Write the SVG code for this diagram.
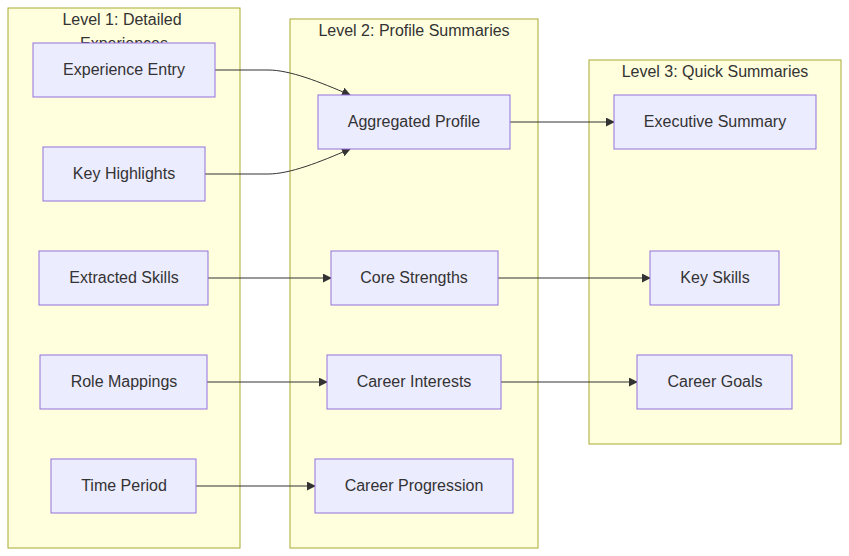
<svg xmlns="http://www.w3.org/2000/svg" width="849" height="556" viewBox="0 0 849 556">
<defs>
<marker id="arrow" viewBox="0 0 10 10" refX="9" refY="5" markerUnits="userSpaceOnUse" markerWidth="9" markerHeight="9" orient="auto">
<path d="M0,0 L10,5 L0,10 z" fill="#333333"/>
</marker>
</defs>
<style>
.cluster{fill:#ffffde;stroke:#aaaa33;stroke-width:1}
.node rect{fill:#ececff;stroke:#9370db;stroke-width:1}
text{font-family:"Liberation Sans",Arial,sans-serif;font-size:16px;fill:#333333;text-anchor:middle;dominant-baseline:central}
.edge{fill:none;stroke:#333333;stroke-width:1;marker-end:url(#arrow)}
</style>
<rect width="849" height="556" fill="#ffffff"/>
<g id="cluster-level1">
<rect class="cluster" x="8" y="8" width="232" height="540"/>
<text x="122" y="19">Level 1: Detailed</text>
<text x="124" y="43">Experiences</text>
</g>
<g id="cluster-level2">
<rect class="cluster" x="290" y="19" width="248" height="529"/>
<text x="414" y="30">Level 2: Profile Summaries</text>
</g>
<g id="cluster-level3">
<rect class="cluster" x="589" y="60" width="252" height="384"/>
<text x="715" y="71">Level 3: Quick Summaries</text>
</g>
<g id="edges">
<path class="edge" d="M215,70 L268,70 C290,70 320,82 350,95"/>
<path class="edge" d="M205,174 L268,174 C290,174 320,162 350,149"/>
<path class="edge" d="M510,122 L614,122"/>
<path class="edge" d="M208,278 L331,278"/>
<path class="edge" d="M498,278 L650,278"/>
<path class="edge" d="M207,382 L327,382"/>
<path class="edge" d="M501,382 L637,382"/>
<path class="edge" d="M196,486 L315,486"/>
</g>
<g id="experience-entry" class="node"><rect x="33" y="43" width="182" height="54"/><text x="124" y="69">Experience Entry</text></g>
<g id="key-highlights" class="node"><rect x="43" y="147" width="162" height="54"/><text x="124" y="173">Key Highlights</text></g>
<g id="extracted-skills" class="node"><rect x="39" y="251" width="169" height="54"/><text x="124" y="277">Extracted Skills</text></g>
<g id="role-mappings" class="node"><rect x="40" y="355" width="167" height="54"/><text x="124" y="381">Role Mappings</text></g>
<g id="time-period" class="node"><rect x="51" y="459" width="145" height="54"/><text x="124" y="485">Time Period</text></g>
<g id="aggregated-profile" class="node"><rect x="318" y="95" width="192" height="54"/><text x="414" y="121">Aggregated Profile</text></g>
<g id="core-strengths" class="node"><rect x="331" y="251" width="167" height="54"/><text x="414" y="277">Core Strengths</text></g>
<g id="career-interests" class="node"><rect x="327" y="355" width="174" height="54"/><text x="414" y="381">Career Interests</text></g>
<g id="career-progression" class="node"><rect x="315" y="459" width="198" height="54"/><text x="414" y="485">Career Progression</text></g>
<g id="executive-summary" class="node"><rect x="614" y="95" width="202" height="54"/><text x="715" y="121">Executive Summary</text></g>
<g id="key-skills" class="node"><rect x="650" y="251" width="129" height="54"/><text x="715" y="277">Key Skills</text></g>
<g id="career-goals" class="node"><rect x="637" y="355" width="155" height="54"/><text x="715" y="381">Career Goals</text></g>
</svg>
